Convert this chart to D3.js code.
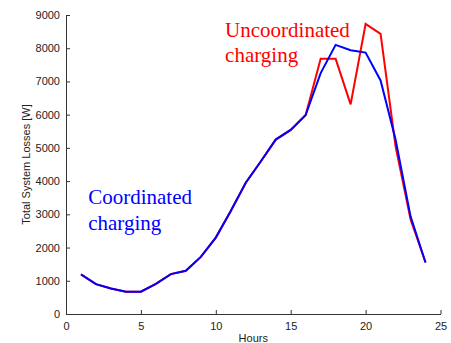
<!DOCTYPE html>
<html>
<head>
<meta charset="utf-8">
<script src="https://cdn.jsdelivr.net/npm/d3@7"></script>
<style>
  body { margin: 0; background: #fff; }
  .tick text { font-family: "Liberation Sans", Arial, sans-serif; font-size: 11px; fill: #222; }
  .axis-title { font-family: "Liberation Sans", Arial, sans-serif; font-size: 11px; fill: #222; }
  .note { font-family: "Liberation Serif", "Times New Roman", serif; font-size: 21px; }
</style>
</head>
<body>
<div id="chart"></div>
<script>
const hours = [1, 2, 3, 4, 5, 6, 7, 8, 9, 10, 11, 12, 13, 14, 15, 16, 17, 18, 19, 20, 21, 22, 23, 24];
const coordinated = [1190, 900, 770, 670, 670, 910, 1200, 1300, 1720, 2300, 3100, 3950, 4590, 5250, 5540, 5990, 7250, 8100, 7940, 7870, 7030, 5250, 2940, 1550];
const uncoordinated = [1190, 900, 770, 670, 670, 910, 1200, 1300, 1720, 2300, 3100, 3950, 4590, 5250, 5540, 5990, 7680, 7680, 6310, 8730, 8430, 5050, 2850, 1550];
const xTicks = [0, 5, 10, 15, 20, 25];
const yTicks = [0, 1000, 2000, 3000, 4000, 5000, 6000, 7000, 8000, 9000];

const width = 451, height = 343;
const margin = { top: 15, right: 10.5, bottom: 29, left: 66 };

const svg = d3.select("#chart").append("svg")
    .attr("width", width)
    .attr("height", height);

const x = d3.scaleLinear()
    .domain([0, 25])
    .range([margin.left, width - margin.right]);

const y = d3.scaleLinear()
    .domain([0, 9000])
    .range([height - margin.bottom, margin.top]);

// axes, ticks pointing inward like matlab
const xAxis = svg.append("g")
    .attr("transform", `translate(0,${y(0)})`)
    .call(d3.axisBottom(x).tickValues(xTicks).tickFormat(d3.format("d"))
        .tickSize(-4).tickPadding(8).tickSizeOuter(0));

const yAxis = svg.append("g")
    .attr("transform", `translate(${x(0)},0)`)
    .call(d3.axisLeft(y).tickValues(yTicks).tickFormat(d3.format("d"))
        .tickSize(-4).tickPadding(6).tickSizeOuter(0));

[xAxis, yAxis].forEach(g => {
    g.select(".domain").attr("stroke", "#333");
    g.selectAll(".tick line").attr("stroke", "#333");
});

svg.append("text")
    .attr("class", "axis-title")
    .attr("x", x(12.5))
    .attr("y", height - 1)
    .attr("text-anchor", "middle")
    .text("Hours");

svg.append("text")
    .attr("class", "axis-title")
    .attr("transform", `translate(30,${y(4500)}) rotate(-90)`)
    .attr("text-anchor", "middle")
    .text("Total System Losses [W]");

const line = d3.line()
    .x(d => x(d[0]))
    .y(d => y(d[1]));

svg.append("path")
    .datum(hours.map((h, i) => [h, uncoordinated[i]]))
    .attr("fill", "none")
    .attr("stroke", "#ff0000")
    .attr("stroke-width", 2)
    .attr("d", line);

svg.append("path")
    .datum(hours.map((h, i) => [h, coordinated[i]]))
    .attr("fill", "none")
    .attr("stroke", "#0000ff")
    .attr("stroke-width", 2)
    .attr("d", line);

// annotations
const notes = [
    { lines: ["Uncoordinated", "charging"], at: [10.62, 8350], color: "#ff0000" },
    { lines: ["Coordinated", "charging"], at: [1.48, 3310], color: "#0000ff" }
];

notes.forEach(n => {
    const t = svg.append("text")
        .attr("class", "note")
        .attr("fill", n.color)
        .attr("x", x(n.at[0]))
        .attr("y", y(n.at[1]));
    n.lines.forEach((s, i) => {
        t.append("tspan")
            .attr("x", x(n.at[0]))
            .attr("dy", i === 0 ? 0 : 25.5)
            .text(s);
    });
});
</script>
</body>
</html>
